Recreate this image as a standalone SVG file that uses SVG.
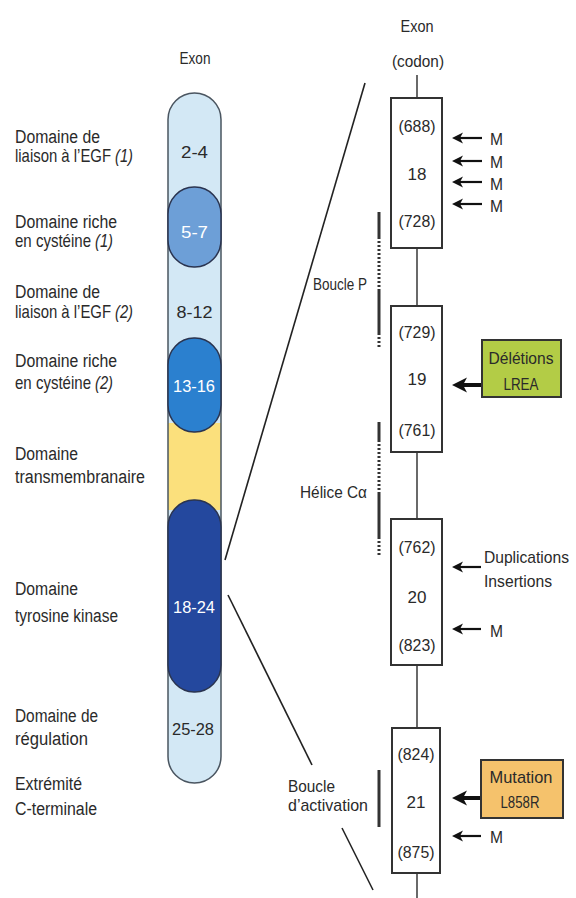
<svg xmlns="http://www.w3.org/2000/svg" width="576" height="898" viewBox="0 0 576 898">
<defs>
<style>
text{font-family:"Liberation Sans Narrow","Liberation Sans",Arial,sans-serif;fill:#2a2a2a;font-size:17px}
.lab{font-size:18px}
.sl{font-size:15px}
.it{font-style:italic}
.num{font-size:17px;text-anchor:middle}
.wn{fill:#ffffff}
.mid{text-anchor:middle}
.box{fill:#ffffff;stroke:#333;stroke-width:2}
.spine{stroke:#444;stroke-width:1.6;fill:none}
.diag{stroke:#222;stroke-width:1.6;fill:none}
.thin{stroke:#111;stroke-width:2.2;fill:none}
.thick{stroke:#111;stroke-width:4;fill:none}
.head{fill:#111}
.blk{stroke:#2a3450;stroke-width:1.5}
.brk{stroke:#333;stroke-width:3;fill:none}
</style>
</defs>
<rect width="576" height="898" fill="#ffffff"/>

<g id="connectors">
<line class="diag" x1="365" y1="83" x2="225" y2="560"/>
<line class="diag" x1="228" y1="595" x2="312" y2="765"/>
<line class="diag" x1="342" y1="828" x2="373" y2="890"/>
<line class="spine" x1="417" y1="75" x2="417" y2="98"/>
<line class="spine" x1="417" y1="248" x2="417" y2="306"/>
<line class="spine" x1="417" y1="452" x2="417" y2="519"/>
<line class="spine" x1="417" y1="665" x2="417" y2="728"/>
<line class="spine" x1="417" y1="873" x2="417" y2="898"/>
<line class="thin" x1="482" y1="138" x2="459" y2="138"/>
<polygon class="head" points="452,138 463,132.5 460,138 463,143.5"/>
<line class="thin" x1="482" y1="161" x2="459" y2="161"/>
<polygon class="head" points="452,161 463,155.5 460,161 463,166.5"/>
<line class="thin" x1="482" y1="182" x2="459" y2="182"/>
<polygon class="head" points="452,182 463,176.5 460,182 463,187.5"/>
<line class="thin" x1="482" y1="204" x2="459" y2="204"/>
<polygon class="head" points="452,204 463,198.5 460,204 463,209.5"/>
<line class="thick" x1="482" y1="385" x2="462" y2="385"/>
<polygon class="head" points="452,385 467,377.5 463,385 467,392.5"/>
<line class="thin" x1="481" y1="567" x2="459" y2="567"/>
<polygon class="head" points="452,567 463,561.5 460,567 463,572.5"/>
<line class="thin" x1="481" y1="629" x2="459" y2="629"/>
<polygon class="head" points="452,629 463,623.5 460,629 463,634.5"/>
<line class="thick" x1="481" y1="798" x2="462" y2="798"/>
<polygon class="head" points="452,798 467,790.5 463,798 467,805.5"/>
<line class="thin" x1="481" y1="836" x2="459" y2="836"/>
<polygon class="head" points="452,836 463,830.5 460,836 463,841.5"/>
</g>

<g id="capsule">
<rect x="168" y="93" width="53" height="690" rx="26.5" ry="26.5" fill="#d3e8f5"/>
<rect x="168" y="423" width="53" height="87" fill="#fbe07c"/>
<rect x="168" y="93" width="53" height="690" rx="26.5" ry="26.5" fill="none" stroke="#4a5560" stroke-width="1.5"/>
<text class="num" x="194.5" y="158" textLength="27" lengthAdjust="spacingAndGlyphs">2-4</text>
<text class="num" x="194.5" y="318" textLength="36" lengthAdjust="spacingAndGlyphs">8-12</text>
<text class="num" x="193" y="735" textLength="42" lengthAdjust="spacingAndGlyphs">25-28</text>
<text x="195" y="64" class="mid" textLength="31" lengthAdjust="spacingAndGlyphs">Exon</text>
</g>
<g id="blk-5-7">
<rect class="blk" x="168" y="187" width="53" height="80" rx="26" ry="27" fill="#6d9fd7"/>
<text class="num wn" x="194.5" y="238" textLength="27" lengthAdjust="spacingAndGlyphs">5-7</text>
</g>
<g id="blk-13-16">
<rect class="blk" x="168" y="338" width="53" height="94" rx="26" ry="27" fill="#2b80cf"/>
<text class="num wn" x="194" y="392" textLength="42" lengthAdjust="spacingAndGlyphs">13-16</text>
</g>
<g id="blk-18-24">
<rect class="blk" x="168" y="500" width="53" height="192" rx="26" ry="27" fill="#24489e"/>
<text class="num wn" x="194" y="613" textLength="42" lengthAdjust="spacingAndGlyphs">18-24</text>
</g>

<g id="left-labels">
<text class="lab" x="15" y="143" textLength="85" lengthAdjust="spacingAndGlyphs">Domaine de</text>
<text class="sl" transform="translate(15,162) scale(1,1.2)" textLength="96" lengthAdjust="spacingAndGlyphs">liaison à l’EGF</text>
<text class="sl it" transform="translate(115,162) scale(1,1.2)" textLength="18" lengthAdjust="spacingAndGlyphs">(1)</text>
<text class="lab" x="15" y="228" textLength="102" lengthAdjust="spacingAndGlyphs">Domaine riche</text>
<text class="sl" transform="translate(15,247) scale(1,1.2)" textLength="76" lengthAdjust="spacingAndGlyphs">en cystéine</text>
<text class="sl it" transform="translate(95,247) scale(1,1.2)" textLength="18" lengthAdjust="spacingAndGlyphs">(1)</text>
<text class="lab" x="15" y="298" textLength="85" lengthAdjust="spacingAndGlyphs">Domaine de</text>
<text class="sl" transform="translate(15,318) scale(1,1.2)" textLength="96" lengthAdjust="spacingAndGlyphs">liaison à l’EGF</text>
<text class="sl it" transform="translate(115,318) scale(1,1.2)" textLength="18" lengthAdjust="spacingAndGlyphs">(2)</text>
<text class="lab" x="15" y="367" textLength="102" lengthAdjust="spacingAndGlyphs">Domaine riche</text>
<text class="sl" transform="translate(15,389) scale(1,1.2)" textLength="76" lengthAdjust="spacingAndGlyphs">en cystéine</text>
<text class="sl it" transform="translate(95,389) scale(1,1.2)" textLength="18" lengthAdjust="spacingAndGlyphs">(2)</text>
<text class="lab" x="15" y="460" textLength="63" lengthAdjust="spacingAndGlyphs">Domaine</text>
<text class="lab" x="15" y="483" textLength="130" lengthAdjust="spacingAndGlyphs">transmembranaire</text>
<text class="lab" x="15" y="595" textLength="63" lengthAdjust="spacingAndGlyphs">Domaine</text>
<text class="lab" x="15" y="622" textLength="103" lengthAdjust="spacingAndGlyphs">tyrosine kinase</text>
<text class="lab" x="15" y="722" textLength="83" lengthAdjust="spacingAndGlyphs">Domaine de</text>
<text class="lab" x="15" y="745" textLength="73" lengthAdjust="spacingAndGlyphs">régulation</text>
<text class="lab" x="15" y="790" textLength="67" lengthAdjust="spacingAndGlyphs">Extrémité</text>
<text class="lab" x="15" y="815" textLength="82" lengthAdjust="spacingAndGlyphs">C-terminale</text>
</g>

<g id="right-header">
<text class="mid" x="417" y="32" textLength="33" lengthAdjust="spacingAndGlyphs">Exon</text>
<text class="mid" x="418" y="67" textLength="52" lengthAdjust="spacingAndGlyphs">(codon)</text>
</g>

<g id="exon18">
<rect class="box" x="391" y="98" width="51" height="150"/>
<text class="mid" x="417" y="132" textLength="37" lengthAdjust="spacingAndGlyphs">(688)</text>
<text class="mid" x="417" y="180">18</text>
<text class="mid" x="417" y="227" textLength="37" lengthAdjust="spacingAndGlyphs">(728)</text>
</g>
<g id="exon19">
<rect class="box" x="391" y="306" width="51" height="146"/>
<text class="mid" x="417" y="338" textLength="37" lengthAdjust="spacingAndGlyphs">(729)</text>
<text class="mid" x="417" y="385">19</text>
<text class="mid" x="417" y="436" textLength="37" lengthAdjust="spacingAndGlyphs">(761)</text>
</g>
<g id="exon20">
<rect class="box" x="391" y="519" width="51" height="146"/>
<text class="mid" x="417" y="553" textLength="37" lengthAdjust="spacingAndGlyphs">(762)</text>
<text class="mid" x="417" y="603">20</text>
<text class="mid" x="417" y="651" textLength="37" lengthAdjust="spacingAndGlyphs">(823)</text>
</g>
<g id="exon21">
<rect class="box" x="392" y="728" width="48" height="145"/>
<text class="mid" x="416" y="760" textLength="37" lengthAdjust="spacingAndGlyphs">(824)</text>
<text class="mid" x="416" y="808">21</text>
<text class="mid" x="416" y="858" textLength="37" lengthAdjust="spacingAndGlyphs">(875)</text>
</g>

<g id="mutations-M">
<text x="490" y="145" font-size="18" textLength="13" lengthAdjust="spacingAndGlyphs">M</text>
<text x="490" y="168" font-size="18" textLength="13" lengthAdjust="spacingAndGlyphs">M</text>
<text x="490" y="190" font-size="18" textLength="13" lengthAdjust="spacingAndGlyphs">M</text>
<text x="490" y="212" font-size="18" textLength="13" lengthAdjust="spacingAndGlyphs">M</text>
<text x="490" y="637" font-size="18" textLength="13" lengthAdjust="spacingAndGlyphs">M</text>
<text x="490" y="843" font-size="18" textLength="13" lengthAdjust="spacingAndGlyphs">M</text>
</g>

<g id="deletions">
<rect x="482" y="340" width="79" height="57" fill="#b3cc46" stroke="#333" stroke-width="2"/>
<text class="mid" x="521" y="364" textLength="65" lengthAdjust="spacingAndGlyphs">Délétions</text>
<text class="mid" x="521" y="390" textLength="35" lengthAdjust="spacingAndGlyphs">LREA</text>
</g>
<g id="mutation-l858r">
<rect x="481" y="760" width="82" height="58" fill="#f5c26c" stroke="#333" stroke-width="2"/>
<text class="mid" x="521" y="783" textLength="63" lengthAdjust="spacingAndGlyphs">Mutation</text>
<text class="mid" x="520" y="808" textLength="39" lengthAdjust="spacingAndGlyphs">L858R</text>
</g>
<g id="duplications">
<text x="484" y="563" textLength="85" lengthAdjust="spacingAndGlyphs">Duplications</text>
<text x="484" y="587" textLength="68" lengthAdjust="spacingAndGlyphs">Insertions</text>
</g>

<g id="boucle-p">
<text x="313" y="290" textLength="54" lengthAdjust="spacingAndGlyphs">Boucle P</text>
<line class="brk" x1="379" y1="212" x2="379" y2="237"/>
<line class="brk" x1="379" y1="237" x2="379" y2="290" stroke-dasharray="2 2"/>
<line class="brk" x1="379" y1="290" x2="379" y2="333"/>
<line class="brk" x1="379" y1="333" x2="379" y2="347" stroke-dasharray="2 2"/>
</g>
<g id="helice">
<text x="300" y="498" textLength="67" lengthAdjust="spacingAndGlyphs">Hélice Cα</text>
<line class="brk" x1="379" y1="422" x2="379" y2="440"/>
<line class="brk" x1="379" y1="440" x2="379" y2="493" stroke-dasharray="2 2"/>
<line class="brk" x1="379" y1="493" x2="379" y2="537"/>
<line class="brk" x1="379" y1="537" x2="379" y2="557" stroke-dasharray="2 2"/>
</g>
<g id="boucle-activation">
<text x="288" y="792" font-size="16" textLength="47" lengthAdjust="spacingAndGlyphs">Boucle</text>
<text x="288" y="811" font-size="16" textLength="80" lengthAdjust="spacingAndGlyphs">d’activation</text>
<line class="brk" x1="379" y1="770" x2="379" y2="827"/>
</g>
</svg>
